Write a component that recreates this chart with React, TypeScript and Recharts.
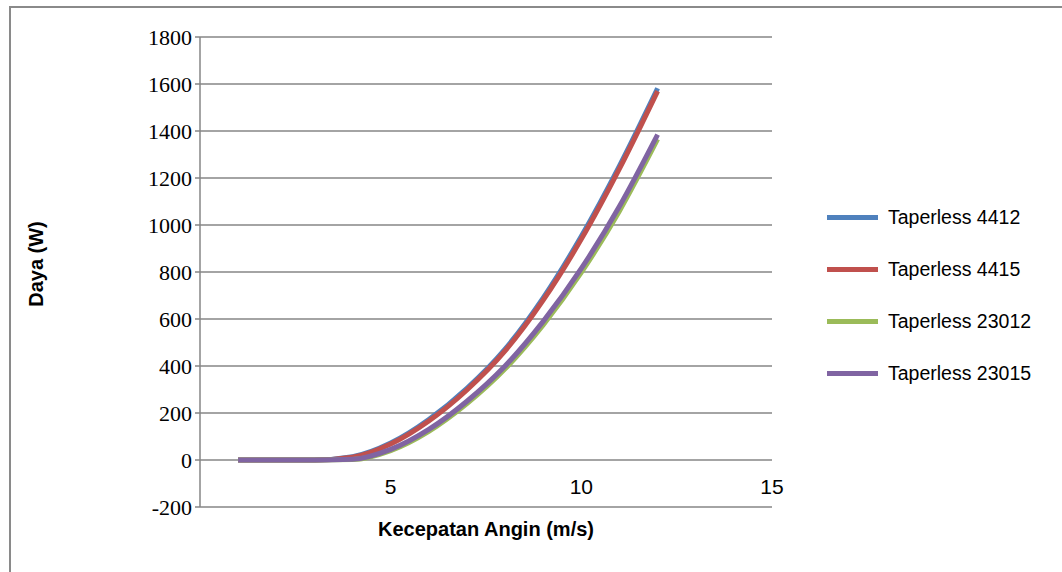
import React from "react";
import { LineChart, Line, XAxis, YAxis, CartesianGrid, Legend } from "recharts";

const windSpeed = [1, 2, 3, 4, 5, 6, 7, 8, 9, 10, 11, 12];
const taperless4412 = [0, 0, 0, 14, 72, 172, 305, 472, 690, 952, 1252, 1582];
const taperless4415 = [0, 0, 0, 12, 68, 166, 298, 464, 680, 940, 1240, 1570];
const taperless23012 = [0, 0, 0, 2, 40, 122, 240, 388, 575, 798, 1060, 1365];
const taperless23015 = [0, 0, 0, 3, 45, 130, 250, 400, 590, 815, 1080, 1385];
const yTicks = [-200, 0, 200, 400, 600, 800, 1000, 1200, 1400, 1600, 1800];
const xTicks = [5, 10, 15];

const seriesNames = ["Taperless 4412", "Taperless 4415", "Taperless 23012", "Taperless 23015"];
const seriesColors = ["#4F81BD", "#C0504D", "#9BBB59", "#8064A2"];
const seriesValues = [taperless4412, taperless4415, taperless23012, taperless23015];

const data = windSpeed.map((v, i) => {
  const row: Record<string, number> = { v };
  seriesNames.forEach((n, k) => {
    row[n] = seriesValues[k][i];
  });
  return row;
});

const SANS = "'Liberation Sans', Arial, sans-serif";
const SERIF = "'Liberation Serif', 'Times New Roman', serif";
const GRID = "#868686";

const XTick = (props: any) => {
  const { x, y, payload } = props;
  return (
    <text x={x} y={y} dy={-21} textAnchor="middle" fontFamily={SANS} fontSize={21} fill="#000">
      {payload.value}
    </text>
  );
};

const LegendContent = (props: any) => {
  const payload = [...(props.payload || [])].sort(
    (a: any, b: any) => seriesNames.indexOf(a.value) - seriesNames.indexOf(b.value)
  );
  return (
    <div>
      {payload.map((p: any, i: number) => (
        <div key={i} style={{ display: "flex", alignItems: "center", height: 52 }}>
          <div style={{ width: 51, height: 5, background: p.color, marginRight: 10 }} />
          <span style={{ fontFamily: SANS, fontSize: 19.5, color: "#000", whiteSpace: "nowrap" }}>{p.value}</span>
        </div>
      ))}
    </div>
  );
};

export default function App() {
  return (
    <div style={{ position: "absolute", left: 0, top: 0, width: 1062, height: 572, background: "#fff", overflow: "hidden" }}>
      <div
        style={{
          position: "absolute",
          left: 9,
          top: 6,
          width: 1100,
          height: 600,
          borderLeft: "2px solid #8a8a8a",
          borderTop: "2px solid #8a8a8a",
        }}
      />
      <LineChart width={1062} height={572} data={data} margin={{ top: 37, right: 290, bottom: 35, left: 140 }}>
        <CartesianGrid vertical={false} stroke={GRID} strokeWidth={1.5} />
        <XAxis
          dataKey="v"
          type="number"
          domain={[0, 15]}
          ticks={xTicks}
          axisLine={false}
          tickLine={false}
          height={30}
          tick={<XTick />}
          label={{
            value: "Kecepatan Angin (m/s)",
            position: "bottom",
            offset: -15,
            style: { fontFamily: SANS, fontSize: 20, fontWeight: "bold", fill: "#000" },
          }}
        />
        <YAxis
          type="number"
          domain={[-200, 1800]}
          ticks={yTicks}
          width={60}
          interval={0}
          axisLine={{ stroke: GRID, strokeWidth: 1.5 }}
          tickLine={{ stroke: GRID, strokeWidth: 1.5 }}
          tickSize={5}
          tickMargin={3}
          tick={{ fontFamily: SERIF, fontSize: 22, fill: "#000" }}
          label={{
            value: "Daya (W)",
            angle: -90,
            position: "insideLeft",
            dx: -109,
            dy: -8,
            style: { fontFamily: SANS, fontSize: 20, fontWeight: "bold", fill: "#000", textAnchor: "middle" },
          }}
        />
        <Legend
          layout="horizontal"
          align="center"
          verticalAlign="middle"
          content={<LegendContent />}
          wrapperStyle={{ position: "absolute", left: 827, top: 191, width: 230 }}
        />
        {seriesNames.map((n, k) => (
          <Line
            key={n}
            type="monotone"
            dataKey={n}
            stroke={seriesColors[k]}
            strokeWidth={5}
            dot={false}
            activeDot={false}
            isAnimationActive={false}
          />
        ))}
      </LineChart>
    </div>
  );
}
